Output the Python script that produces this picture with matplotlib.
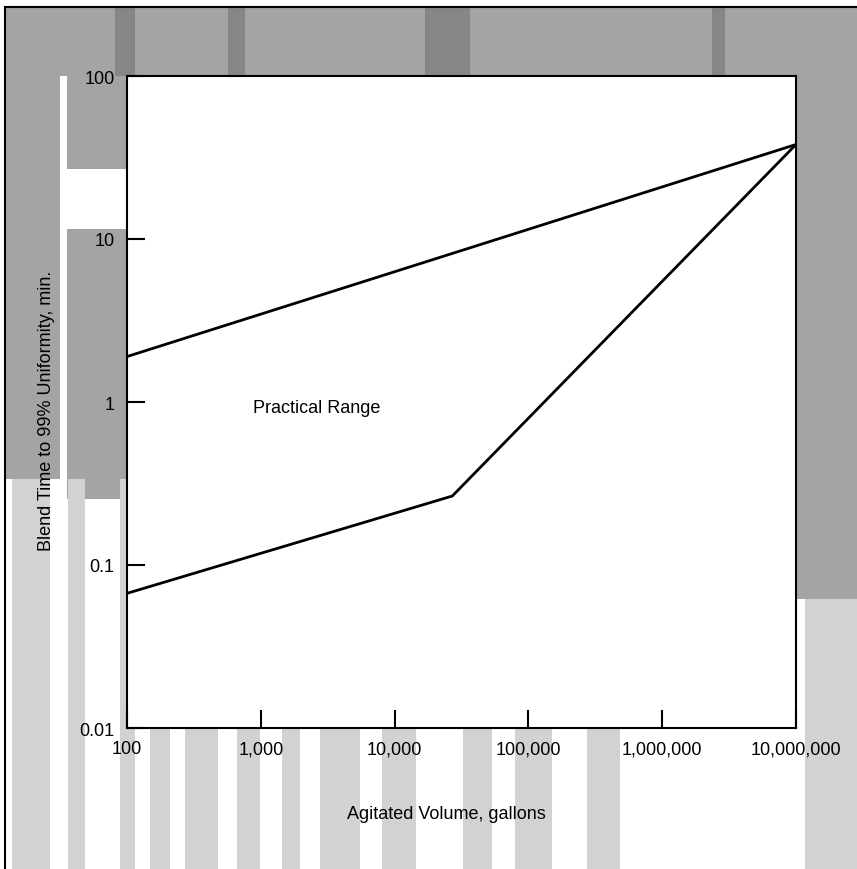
import matplotlib
matplotlib.use("Agg")
import matplotlib.pyplot as plt
from matplotlib.patches import Rectangle
from matplotlib.lines import Line2D

plt.rcParams['font.family'] = ['Liberation Sans', 'DejaVu Sans']

# data
upper_volume = [100, 1e7]
upper_time = [1.9, 38]
lower_volume = [100, 27000, 1e7]
lower_time = [0.067, 0.265, 38]

x_ticks = [100, 1000, 10000, 100000, 1000000, 10000000]
x_labels = ['100', '1,000', '10,000', '100,000', '1,000,000', '10,000,000']
y_ticks = [0.01, 0.1, 1, 10, 100]
y_labels = ['0.01', '0.1', '1', '10', '100']

W, H = 857, 870
fig = plt.figure(figsize=(W / 100, H / 100), dpi=100)
fig.patch.set_facecolor('white')

def px_rect(x0, y0, x1, y1, color):
    # rectangle given in picture pixels (top-left origin)
    fig.add_artist(Rectangle((x0 / W, 1 - y1 / H), (x1 - x0) / W, (y1 - y0) / H,
                             transform=fig.transFigure, color=color, lw=0, zorder=0))

# scanned page shading, rough
grey = '#a4a4a4'
light = '#d2d2d2'
px_rect(5, 8, 857, 77, grey)
for x0, x1 in [(115, 135), (228, 245), (425, 470), (712, 725)]:
    px_rect(x0, 8, x1, 77, '#868686')
px_rect(5, 77, 60, 480, grey)
px_rect(67, 77, 127, 170, grey)
px_rect(67, 230, 127, 500, grey)
px_rect(796, 77, 857, 600, grey)
px_rect(805, 600, 857, 870, light)
for x0, x1 in [(12, 50), (68, 85), (120, 135)]:
    px_rect(x0, 480, x1, 870, light)
for x0, x1 in [(150, 170), (185, 218), (237, 260), (282, 300), (320, 360),
               (382, 416), (463, 492), (515, 552), (587, 620)]:
    px_rect(x0, 729, x1, 870, light)
fig.add_artist(Line2D([5 / W, 5 / W], [0, 1 - 8 / H], transform=fig.transFigure,
                      color='black', lw=1.5))
fig.add_artist(Line2D([5 / W, 1], [1 - 8 / H, 1 - 8 / H], transform=fig.transFigure,
                      color='black', lw=1.5))

ax = fig.add_axes([127 / W, 1 - 729 / H, 669 / W, 652 / H])
ax.set_facecolor('white')
ax.set_zorder(2)

ax.plot(upper_volume, upper_time, color='black', lw=2)
ax.plot(lower_volume, lower_time, color='black', lw=2)

ax.set_xscale('log')
ax.set_yscale('log')
ax.set_xlim(100, 1e7)
ax.set_ylim(0.01, 100)
ax.set_xticks(x_ticks)
ax.set_xticklabels(x_labels)
ax.set_yticks(y_ticks)
ax.set_yticklabels(y_labels)
ax.minorticks_off()
ax.tick_params(direction='in', length=13, width=1.5, labelsize=13, pad=9)

for s in ax.spines.values():
    s.set_linewidth(1.5)

ax.text(2630, 0.93, 'Practical Range', fontsize=13, ha='center', va='center')

fig.text(446 / W, 1 - 815 / H, 'Agitated Volume, gallons', fontsize=13,
         ha='center', va='center')
fig.text(47 / W, 1 - 411 / H, 'Blend Time to 99% Uniformity, min.', fontsize=13,
         ha='center', va='center', rotation=90)

fig.savefig('out.png', dpi=100)
